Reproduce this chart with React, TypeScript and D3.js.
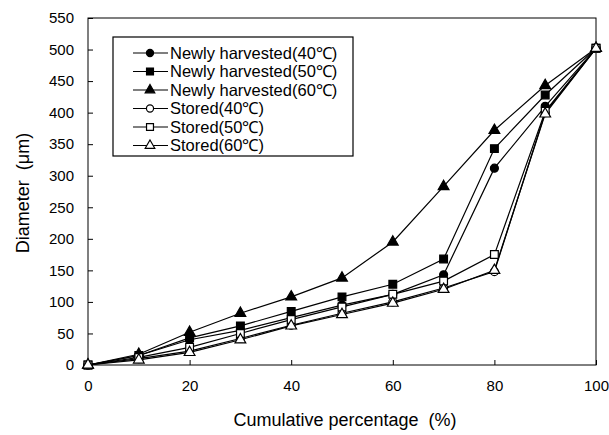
import React, { useRef, useEffect } from "react";
import * as d3 from "d3";

const xValues = [0, 10, 20, 30, 40, 50, 60, 70, 80, 90, 100];
const newly40 = [0, 15, 40, 55, 75, 95, 112, 143, 312, 410, 502];
const newly50 = [0, 15, 43, 62, 85, 108, 128, 168, 343, 428, 502];
const newly60 = [0, 17, 52, 82, 108, 138, 195, 283, 372, 443, 502];
const stored40 = [0, 10, 22, 42, 63, 82, 100, 122, 148, 400, 502];
const stored50 = [0, 12, 28, 50, 72, 92, 112, 133, 175, 402, 502];
const stored60 = [0, 8, 20, 40, 62, 80, 98, 120, 150, 398, 502];
const seriesNames = [
  "Newly harvested(40℃)",
  "Newly harvested(50℃)",
  "Newly harvested(60℃)",
  "Stored(40℃)",
  "Stored(50℃)",
  "Stored(60℃)",
];
const xTicks = [0, 20, 40, 60, 80, 100];
const yTicks = [0, 50, 100, 150, 200, 250, 300, 350, 400, 450, 500, 550];

const series = [
  { name: seriesNames[0], values: newly40, shape: "circle", filled: true },
  { name: seriesNames[1], values: newly50, shape: "square", filled: true },
  { name: seriesNames[2], values: newly60, shape: "triangle", filled: true },
  { name: seriesNames[3], values: stored40, shape: "circle", filled: false },
  { name: seriesNames[4], values: stored50, shape: "square", filled: false },
  { name: seriesNames[5], values: stored60, shape: "triangle", filled: false },
];

const symbolFor = (shape) =>
  shape === "circle" ? d3.symbolCircle : shape === "square" ? d3.symbolSquare : d3.symbolTriangle;
const sizeFor = (shape) => (shape === "circle" ? 50 : shape === "square" ? 60 : 50);

const App = () => {
  const svgRef = useRef(null);

  useEffect(() => {
    const svg = d3.select(svgRef.current);
    svg.selectAll("*").remove();

    const margin = { top: 18, right: 13, bottom: 70, left: 88 };
    const width = 609;
    const height = 435;
    const innerWidth = width - margin.left - margin.right;
    const innerHeight = height - margin.top - margin.bottom;
    const font = "Arial, 'Liberation Sans', sans-serif";

    const x = d3.scaleLinear().domain([0, 100]).range([0, innerWidth]);
    const y = d3.scaleLinear().domain([0, 550]).range([innerHeight, 0]);

    const g = svg.append("g").attr("transform", `translate(${margin.left},${margin.top})`);

    // frame
    g.append("rect")
      .attr("width", innerWidth)
      .attr("height", innerHeight)
      .attr("fill", "none")
      .attr("stroke", "#000")
      .attr("stroke-width", 1);

    // x axis
    const xAxis = g
      .append("g")
      .attr("transform", `translate(0,${innerHeight})`)
      .call(d3.axisBottom(x).tickValues(xTicks).tickSizeInner(-5).tickSizeOuter(0).tickPadding(15));
    xAxis.select(".domain").remove();
    xAxis.selectAll("text").style("font-family", font).style("font-size", "15px").attr("fill", "#000");

    // y axis
    const yAxis = g
      .append("g")
      .call(d3.axisLeft(y).tickValues(yTicks).tickSizeInner(-5).tickSizeOuter(0).tickPadding(14));
    yAxis.select(".domain").remove();
    yAxis.selectAll("text").style("font-family", font).style("font-size", "15px").attr("fill", "#000");

    // lines
    const line = d3
      .line()
      .x((d, i) => x(xValues[i]))
      .y((d) => y(d));

    series.forEach((s) => {
      g.append("path")
        .datum(s.values)
        .attr("d", line)
        .attr("fill", "none")
        .attr("stroke", "#000")
        .attr("stroke-width", 1.2);
    });

    series.forEach((s) => {
      g.append("g")
        .selectAll("path")
        .data(s.values)
        .join("path")
        .attr("transform", (d, i) => `translate(${x(xValues[i])},${y(d)})`)
        .attr("d", d3.symbol().type(symbolFor(s.shape)).size(sizeFor(s.shape)))
        .attr("fill", s.filled ? "#000" : "#fff")
        .attr("stroke", "#000")
        .attr("stroke-width", 1.2);
    });

    // legend
    const legend = svg.append("g").attr("transform", "translate(113,37)");
    legend
      .append("rect")
      .attr("width", 240)
      .attr("height", 119)
      .attr("fill", "#fff")
      .attr("stroke", "#000")
      .attr("stroke-width", 1.2);

    const items = legend
      .selectAll("g.item")
      .data(series)
      .join("g")
      .attr("class", "item")
      .attr("transform", (d, i) => `translate(0,${16 + i * 18.5})`);
    items
      .append("line")
      .attr("x1", 20)
      .attr("x2", 55)
      .attr("stroke", "#000")
      .attr("stroke-width", 1.2);
    items
      .append("path")
      .attr("transform", "translate(37,0)")
      .attr("d", (d) => d3.symbol().type(symbolFor(d.shape)).size(sizeFor(d.shape) * 0.8)())
      .attr("fill", (d) => (d.filled ? "#000" : "#fff"))
      .attr("stroke", "#000")
      .attr("stroke-width", 1.2);
    items
      .append("text")
      .attr("x", 57)
      .attr("dy", "0.35em")
      .style("font-family", font)
      .style("font-size", "16.5px")
      .text((d) => d.name);

    // axis titles
    svg
      .append("text")
      .attr("x", 345)
      .attr("y", 426)
      .attr("text-anchor", "middle")
      .style("font-family", font)
      .style("font-size", "18px")
      .style("white-space", "pre")
      .text("Cumulative percentage  (%)");

    svg
      .append("text")
      .attr("transform", `translate(29,193) rotate(-90)`)
      .attr("text-anchor", "middle")
      .style("font-family", font)
      .style("font-size", "18px")
      .style("white-space", "pre")
      .text("Diameter  (μm)");
  }, []);

  return (
    <svg
      ref={svgRef}
      width={609}
      height={435}
      style={{ position: "absolute", left: 0, top: 0, background: "#fff" }}
    ></svg>
  );
};

export default App;
